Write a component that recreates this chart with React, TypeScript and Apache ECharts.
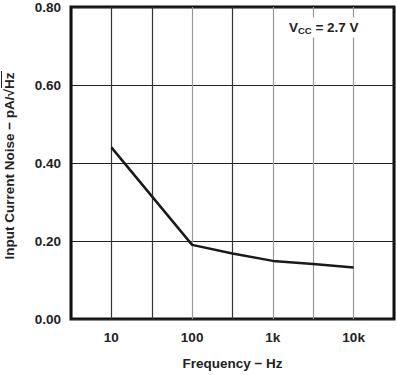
import React, { useEffect, useRef } from "react";
import * as echarts from "echarts";

const logFreq = [1, 2, 2.5, 3, 3.5, 4];
const noise = [0.44, 0.19, 0.168, 0.149, 0.141, 0.132];
const xTickLabels: Record<string, string> = { "1": "10", "2": "100", "3": "1k", "4": "10k" };
const yTicks = [0, 0.2, 0.4, 0.6, 0.8];

export default function App() {
  const ref = useRef<HTMLDivElement>(null);
  useEffect(() => {
    const chart = echarts.init(ref.current!, null, { renderer: "svg" });
    const font = "'Liberation Sans', Arial, sans-serif";
    const fs = 13.5;
    chart.setOption({
      animation: false,
      backgroundColor: "#fff",
      grid: {
        left: 71,
        top: 3,
        right: 3,
        bottom: 55,
        show: true,
        borderColor: "#111",
        borderWidth: 3,
      },
      xAxis: {
        type: "value",
        min: 0.5,
        max: 4.5,
        interval: 0.5,
        name: "Frequency − Hz",
        nameLocation: "middle",
        nameGap: 37,
        nameTextStyle: { fontFamily: font, fontWeight: "bold", fontSize: fs, color: "#222" },
        axisLine: { show: false },
        axisTick: { show: false },
        axisLabel: {
          margin: 11,
          fontFamily: font,
          fontWeight: "bold",
          fontSize: fs,
          color: "#222",
          formatter: (v: number) => xTickLabels[String(v)] ?? "",
        },
        splitLine: {
          show: true,
          lineStyle: {
            color: ["#111", "#333", "#333", "#999", "#333", "#999", "#999", "#999", "#111"],
            width: 1.2,
          },
        },
      },
      yAxis: {
        type: "value",
        min: yTicks[0],
        max: yTicks[yTicks.length - 1],
        interval: 0.2,
        axisLine: { show: false },
        axisTick: { show: false },
        axisLabel: {
          margin: 10,
          fontFamily: font,
          fontWeight: "bold",
          fontSize: fs,
          color: "#222",
          formatter: (v: number) => v.toFixed(2),
        },
        splitLine: { show: true, lineStyle: { color: "#222", width: 1 } },
      },
      series: [
        {
          type: "line",
          data: logFreq.map((x, i) => [x, noise[i]]),
          showSymbol: false,
          lineStyle: { color: "#1a1a1a", width: 2.5 },
          z: 5,
        },
      ],
      graphic: [
        {
          type: "text",
          x: 9,
          y: 166,
          rotation: Math.PI / 2,
          style: {
            text: "Input Current Noise − pA/√Hz",
            font: `bold ${fs}px ${font}`,
            fill: "#222",
            align: "center",
            verticalAlign: "middle",
          },
        },
        {
          type: "line",
          shape: { x1: 1.5, y1: 71, x2: 1.5, y2: 88 },
          style: { stroke: "#222", lineWidth: 1 },
        },
        {
          type: "text",
          x: 286,
          y: 27.5,
          z: 10,
          style: {
            text: "{v|V}{s|CC}{v| = 2.7 V}",
            rich: {
              v: { font: `bold ${fs}px ${font}`, fill: "#222" },
              s: { font: `bold 9.5px ${font}`, fill: "#222", padding: [6, 0, 0, 0] },
            },
            verticalAlign: "middle",
            backgroundColor: "#fff",
            padding: [2, 3, 2, 3],
          },
        },
      ],
    });
    return () => chart.dispose();
  }, []);
  return <div ref={ref} style={{ width: 397, height: 375, position: "absolute", left: 0, top: 0 }} />;
}
